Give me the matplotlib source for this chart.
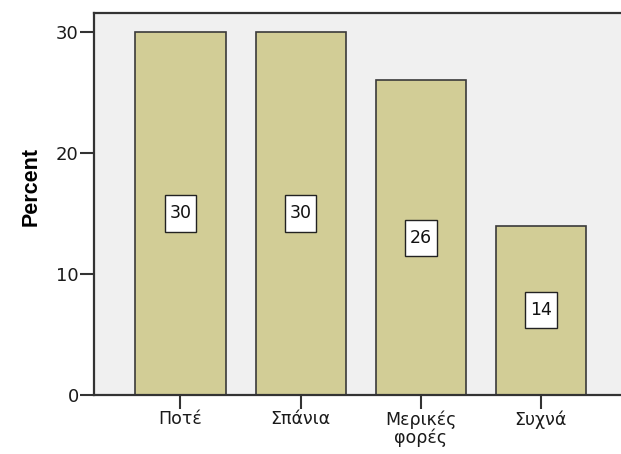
import matplotlib.pyplot as plt
from matplotlib.patches import Rectangle

categories = ["Ποτέ", "Σπάνια", "Μερικές\nφορές", "Συχνά"]
percent = [30, 30, 26, 14]
y_ticks = [0, 10, 20, 30]

plt.rcParams["font.family"] = ["DejaVu Sans"]

fig = plt.figure(figsize=(6.21, 4.54), dpi=100)
ax = fig.add_axes([94 / 621, 1 - 395 / 454, 1 - 94 / 621 + 0.01, (395 - 13) / 454])
ax.set_facecolor("#f0f0f0")

x = list(range(len(categories)))
ax.bar(x, percent, width=0.75, color="#d2cd96", edgecolor="#3a3a3a",
       linewidth=1.2, zorder=2)

# value boxes sit halfway up each bar
box_w, box_h = 0.265, 3.0
for xi, v in zip(x, percent):
    ax.add_patch(Rectangle((xi - box_w / 2, v / 2 - box_h / 2), box_w, box_h,
                           facecolor="white", edgecolor="#222222",
                           linewidth=1.0, zorder=3))
    ax.text(xi, v / 2, f"{v}", ha="center", va="center", fontsize=12.5,
            color="#111111", zorder=4)

ax.set_xlim(-0.72, 3.72)
ax.set_ylim(0, 31.57)
ax.set_xticks(x)
ax.set_xticklabels(categories, fontsize=12.5, linespacing=1.0,
                   color="#1a1a1a")
ax.set_yticks(y_ticks)
ax.set_yticklabels([str(t) for t in y_ticks], fontsize=13, color="#1a1a1a")
ax.set_ylabel("Percent", family=["Liberation Sans", "DejaVu Sans"],
              fontsize=15.5, fontweight="bold")
ax.yaxis.set_label_coords(-0.098, 0.545)

ax.tick_params(axis="both", direction="out", length=10, width=1.5,
               color="#333333", pad=1)
for side in ("left", "bottom", "top"):
    ax.spines[side].set_color("#333333")
    ax.spines[side].set_linewidth(1.6)
ax.spines["right"].set_visible(False)

fig.savefig("out.png", dpi=100)
